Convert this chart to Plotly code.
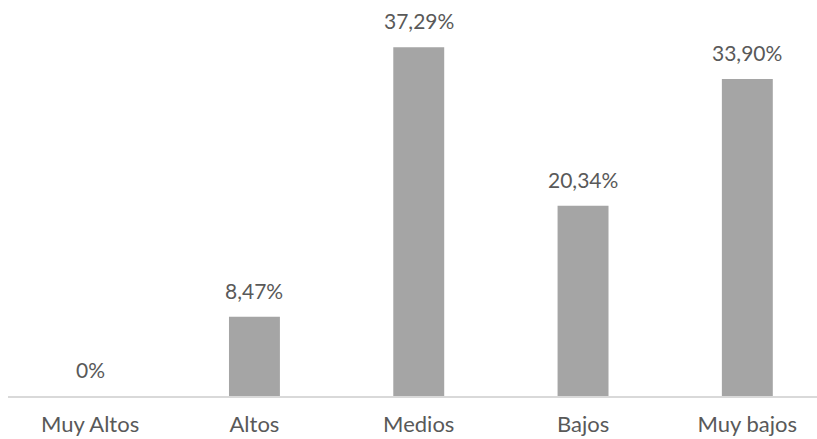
import plotly.graph_objects as go

categories = ["Muy Altos", "Altos", "Medios", "Bajos", "Muy bajos"]
values = [0, 8.47, 37.29, 20.34, 33.90]


def fmt(v):
    if v == 0:
        return "0%"
    return f"{v:.2f}".replace(".", ",") + "%"


labels = [fmt(v) for v in values]

font_family = "Lato, 'Open Sans', sans-serif"
text_color = "#595959"

fig = go.Figure(
    go.Bar(
        x=categories,
        y=values,
        marker=dict(color="#a5a5a5", line=dict(width=0)),
        width=0.31,
        hoverinfo="skip",
    )
)

for c, v, t in zip(categories, values, labels):
    fig.add_annotation(
        x=c, y=v, text=t, showarrow=False,
        xref="x", yref="y", yanchor="bottom", yshift=12,
        font=dict(family=font_family, size=21, color=text_color),
    )

fig.update_layout(
    width=817,
    height=439,
    margin=dict(l=8, r=0, t=22, b=43),
    paper_bgcolor="white",
    plot_bgcolor="white",
    showlegend=False,
    xaxis=dict(
        range=[-0.5, 4.424],
        showline=True,
        linecolor="#d9d9d9",
        linewidth=2,
        ticks="",
        ticklabelstandoff=8,
        showgrid=False,
        tickfont=dict(family=font_family, size=22, color=text_color),
    ),
    yaxis=dict(
        range=[0, 40],
        visible=False,
        showgrid=False,
        zeroline=False,
    ),
)

fig.write_html("out.html")
